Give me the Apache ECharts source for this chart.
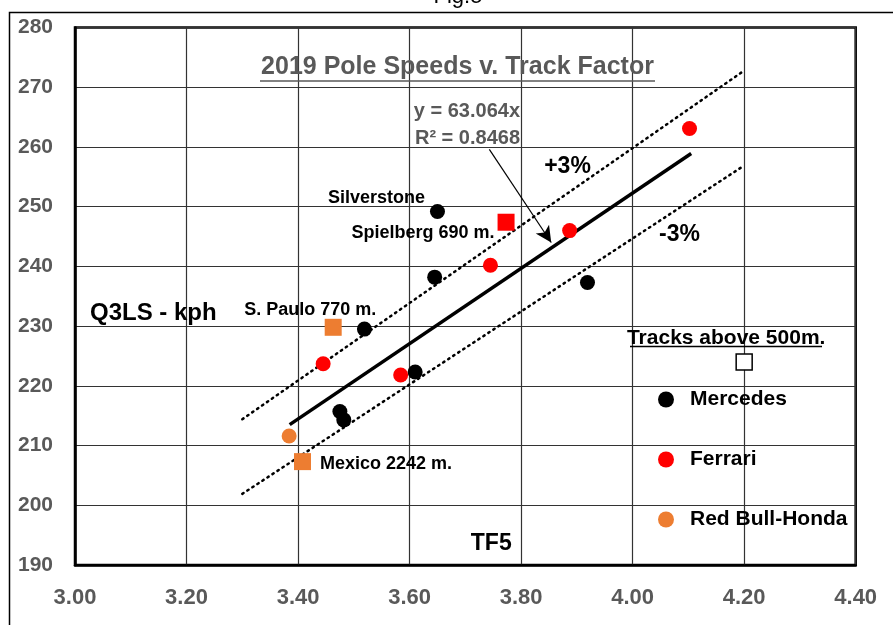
<!DOCTYPE html>
<html><head><meta charset="utf-8">
<script src="https://cdn.jsdelivr.net/npm/echarts@6/dist/echarts.min.js"></script>
<style>html,body{margin:0;padding:0;background:#fff}#c{width:893px;height:625px}</style>
</head><body><div id="c"></div>
<script>
// ---- data (TF5 factor, Q3LS speed kph) ----
const mercedes = [[3.650,249.2],[3.645,238.2],[3.519,229.5],[3.610,222.3],[3.475,215.7],[3.482,214.3],[3.919,237.3]];
const mercedesLabels = ['Silverstone','','','','','',''];
const ferrari = [[3.745,240.2],[3.445,223.7],[3.584,221.8],[3.887,246.0],[4.102,263.1]];
const redBull = [[3.384,211.6]];
const highTrackNames = ['Spielberg 690 m.','S. Paulo 770 m.','Mexico 2242 m.'];
const highTrackTeams = ['Ferrari','Red Bull-Honda','Red Bull-Honda'];
const highTrackTF = [3.773,3.463,3.408];
const highTrackQ3 = [247.4,229.8,207.3];
const legendKeyPoint = [[4.2,224.0]];
const trendLine = [[3.385,213.5],[4.105,258.9]];
const plus3Line = [[3.3,214.4],[4.2,272.8]];
const minus3Line = [[3.3,201.9],[4.2,256.9]];
const arrowFrom = [3.743,259.6];
const arrowTo = [3.854,244.0];
const xMin = 3.0, xMax = 4.4, xStep = 0.2;
const yMin = 190, yMax = 280, yStep = 10;

const F = "'Liberation Sans', Arial, sans-serif";
const teamColor = {'Mercedes':'#000000','Ferrari':'#FF0000','Red Bull-Honda':'#ED7D31'};
const labelPlace = {
  'Spielberg 690 m.': {position:'left', offset:[2,11]},
  'S. Paulo 770 m.': {position:'top', offset:[-23,5]},
  'Mexico 2242 m.': {position:'right', offset:[4,2]}
};
const ptLabel = {fontFamily:F, fontWeight:'bold', fontSize:18, color:'#000'};

function highTrackData(team){
  const out = [];
  highTrackNames.forEach((n,i)=>{
    if(highTrackTeams[i]!==team) return;
    out.push({value:[highTrackTF[i],highTrackQ3[i]], label:Object.assign({show:true, formatter:n}, ptLabel, labelPlace[n])});
  });
  return out;
}
const solid = c => ({color:c, opacity:1});

const chart = echarts.init(document.getElementById('c'));
chart.setOption({
  animation:false,
  backgroundColor:'#fff',
  grid:{left:75, right:37.3, top:27.6, bottom:60.1, show:true, borderColor:'#000', borderWidth:2.5, backgroundColor:'#fff'},
  xAxis:{type:'value', min:xMin, max:xMax, interval:xStep,
    axisLine:{show:true, onZero:false, lineStyle:{color:'#000', width:2.5}},
    axisTick:{show:false},
    splitLine:{show:true, lineStyle:{color:'#333', width:1.2}},
    axisLabel:{margin:22, formatter:v=>v.toFixed(2), fontFamily:F, fontWeight:'bold', fontSize:22, color:'#595959'}},
  yAxis:{type:'value', min:yMin, max:yMax, interval:yStep,
    axisLine:{show:true, onZero:false, lineStyle:{color:'#000', width:2.5}},
    axisTick:{show:false},
    splitLine:{show:true, lineStyle:{color:'#333', width:1.2}},
    axisLabel:{margin:22, fontFamily:F, fontWeight:'bold', fontSize:21, color:'#595959'}},
  legend:{data:['Mercedes','Ferrari','Red Bull-Honda'], orient:'vertical', left:653, top:384,
    itemWidth:16, itemHeight:16, itemGap:39, icon:'circle', selectedMode:false,
    itemStyle:{opacity:1},
    textStyle:{fontFamily:F, fontWeight:'bold', fontSize:21, lineHeight:21, color:'#000', padding:[0,0,0,11]}},
  series:[
    {type:'line', name:'+3%', data:plus3Line, showSymbol:false, symbol:'none', z:2,
      lineStyle:{color:'#000', width:2.5, type:[1.5,4.5], cap:'round'}},
    {type:'line', name:'-3%', data:minus3Line, showSymbol:false, symbol:'none', z:2,
      lineStyle:{color:'#000', width:2.5, type:[1.5,4.5], cap:'round'}},
    {type:'line', name:'trend', data:trendLine, showSymbol:false, symbol:'none', z:3,
      lineStyle:{color:'#000', width:3.5},
      markLine:{silent:true, symbol:['none','arrow'], symbolSize:[12,16], label:{show:false},
        lineStyle:{color:'#000', width:1.2, type:'solid'},
        data:[[{coord:arrowFrom},{coord:arrowTo}]]}},
    {type:'scatter', name:'Mercedes', z:5, symbol:'circle', symbolSize:15, itemStyle:solid(teamColor['Mercedes']),
      data:mercedes.map((p,i)=>mercedesLabels[i]?{value:p, label:Object.assign({show:true, formatter:mercedesLabels[i], position:'left', offset:[0,-13]}, ptLabel)}:{value:p})},
    {type:'scatter', name:'Ferrari', z:5, symbol:'circle', symbolSize:15, itemStyle:solid(teamColor['Ferrari']), data:ferrari},
    {type:'scatter', name:'Red Bull-Honda', z:5, symbol:'circle', symbolSize:15, itemStyle:solid(teamColor['Red Bull-Honda']), data:redBull},
    {type:'scatter', name:'Ferrari >500m', z:5, symbol:'rect', symbolSize:17, itemStyle:solid(teamColor['Ferrari']), data:highTrackData('Ferrari')},
    {type:'scatter', name:'Red Bull >500m', z:5, symbol:'rect', symbolSize:17, itemStyle:solid(teamColor['Red Bull-Honda']), data:highTrackData('Red Bull-Honda')},
    {type:'scatter', name:'Tracks above 500m.', z:5, symbol:'rect', symbolSize:16,
      itemStyle:{color:'#fff', borderColor:'#000', borderWidth:1.5, opacity:1},
      label:{show:true, formatter:'Tracks above 500m.', position:'top', offset:[-18,1], fontFamily:F, fontWeight:'bold', fontSize:21, color:'#000'},
      data:legendKeyPoint}
  ],
  graphic:[
    {type:'polyline', silent:true, shape:{points:[[9.5,625],[9.5,12.5],[893,12.5]]}, style:{stroke:'#000', lineWidth:1.5, fill:null}},
    {type:'text', silent:true, style:{text:'Fig.5', x:458, y:8, align:'center', verticalAlign:'bottom', font:"22px "+F, fill:'#000'}},
    {type:'text', silent:true, z:10, style:{text:'2019 Pole Speeds v. Track Factor', x:457.5, y:67.5, align:'center', verticalAlign:'middle', font:"bold 25px "+F, fill:'#595959'}},
    {type:'line', silent:true, z:10, shape:{x1:260, y1:81, x2:655, y2:81}, style:{stroke:'#595959', lineWidth:1.5}},
    {type:'text', silent:true, z:10, style:{text:'y = 63.064x', x:520, y:111.7, align:'right', verticalAlign:'middle', font:"bold 20px "+F, fill:'#595959'}},
    {type:'text', silent:true, z:10, style:{text:'R² = 0.8468', x:520, y:138.3, align:'right', verticalAlign:'middle', font:"bold 20px "+F, fill:'#595959'}},
    {type:'text', silent:true, z:10, style:{text:'+3%', x:567.5, y:166.7, align:'center', verticalAlign:'middle', font:"bold 23px "+F, fill:'#000'}},
    {type:'text', silent:true, z:10, style:{text:'-3%', x:679.5, y:235, align:'center', verticalAlign:'middle', font:"bold 23px "+F, fill:'#000'}},
    {type:'text', silent:true, z:10, style:{text:'Q3LS - kph', x:90, y:313, align:'left', verticalAlign:'middle', font:"bold 24px "+F, fill:'#000'}},
    {type:'text', silent:true, z:10, style:{text:'TF5', x:511.7, y:544, align:'right', verticalAlign:'middle', font:"bold 23px "+F, fill:'#000'}},
    {type:'line', silent:true, z:10, shape:{x1:630, y1:346.5, x2:822, y2:346.5}, style:{stroke:'#000', lineWidth:1.5}}
  ]
});
</script>
</body></html>
